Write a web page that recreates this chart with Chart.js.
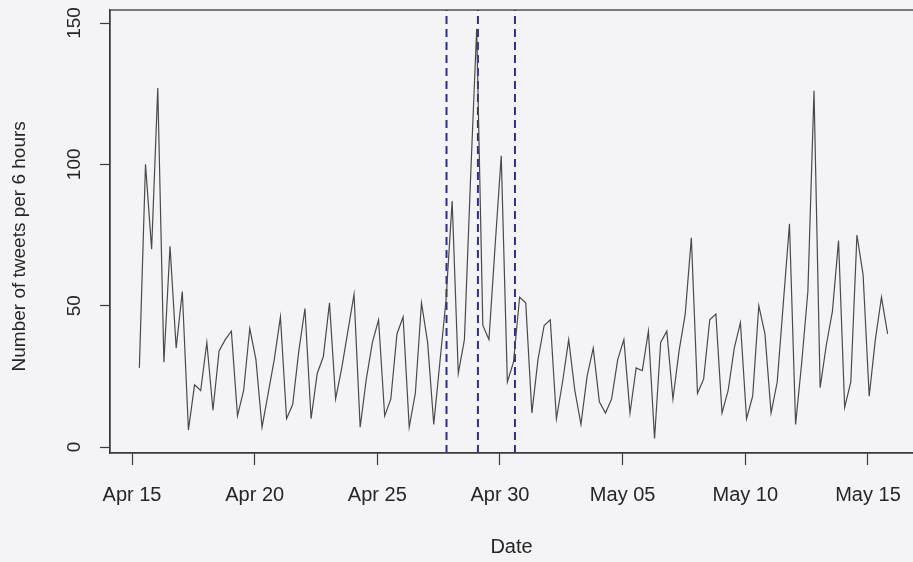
<!DOCTYPE html>
<html>
<head>
<meta charset="utf-8">
<title>Number of tweets per 6 hours</title>
<script src="https://cdn.jsdelivr.net/npm/chart.js@4.4.1/dist/chart.umd.min.js"></script>
<style>
  html, body { margin: 0; padding: 0; background: #f4f4f6; }
  canvas { display: block; }
</style>
</head>
<body>
<canvas id="tweetChart" width="913" height="562"></canvas>
<script>
// days counted from Apr 15 00:00, one point every 6 hours
const firstPointDay = 0.3;
const stepDays = 0.25;

const tweets = [
  28, 100, 70, 127, 30, 71, 35, 55, 6, 22,
  20, 37, 13, 34, 38, 41, 11, 20, 42, 31,
  7, 19, 31, 46, 10, 15, 34, 49, 10, 26,
  32, 51, 17, 28, 41, 54, 7, 24, 37, 45,
  11, 17, 40, 46, 7, 19, 51, 37, 8, 30,
  52, 87, 26, 38, 95, 148, 43, 38, 71, 103,
  23, 30, 53, 51, 12, 31, 43, 45, 10, 23,
  38, 20, 8, 25, 35, 16, 12, 17, 31, 38,
  12, 28, 27, 41, 3, 37, 41, 17, 34, 47,
  74, 19, 24, 45, 47, 12, 20, 35, 44, 10,
  18, 50, 40, 12, 23, 51, 79, 8, 30, 55,
  126, 21, 36, 48, 73, 14, 23, 75, 61, 18,
  38, 53, 40
];

// dashed event markers, days from Apr 15 00:00
const eventDays = [12.82, 14.1, 15.61];

const tickDays = [0, 5, 10, 15, 20, 25, 30];
const tickLabels = ['Apr 15', 'Apr 20', 'Apr 25', 'Apr 30', 'May 05', 'May 10', 'May 15'];
const yTicks = [0, 50, 100, 150];
const yTitle = 'Number of tweets per 6 hours';

const xMin = -0.897, xMax = 31.835;
const yMin = -2.12, yMax = 154.6;

const FONT = "'Liberation Sans', Arial, sans-serif";
const INK = '#262626';

const series = tweets.map((v, i) => ({ x: firstPointDay + i * stepDays, y: v }));

const eventSets = eventDays.map(d => ({
  data: [{ x: d, y: yMin }, { x: d, y: yMax }],
  borderColor: '#2e2e8c',
  borderWidth: 2,
  borderDash: [8, 5],
  pointRadius: 0,
  fill: false
}));

const bgPlugin = {
  id: 'bg',
  beforeDraw(chart) {
    const c = chart.ctx;
    c.save();
    c.fillStyle = '#f4f4f6';
    c.fillRect(0, 0, chart.width, chart.height);
    c.restore();
  }
};

const framePlugin = {
  id: 'frame',
  afterDatasetsDraw(chart) {
    const a = chart.chartArea;
    const c = chart.ctx;
    c.save();
    c.strokeStyle = '#3a3a3a';
    c.lineWidth = 1.3;
    c.strokeRect(a.left, a.top, a.right - a.left + 2, a.bottom - a.top);
    c.restore();
  }
};

// R-style rotated y tick labels and y title
const yLabelPlugin = {
  id: 'yLabels',
  afterDraw(chart) {
    const s = chart.scales.y;
    const c = chart.ctx;
    c.save();
    c.fillStyle = INK;
    c.font = '19px ' + FONT;
    c.textAlign = 'center';
    c.textBaseline = 'middle';
    yTicks.forEach(v => {
      c.save();
      c.translate(75, s.getPixelForValue(v));
      c.rotate(-Math.PI / 2);
      c.fillText(String(v), 0, 0);
      c.restore();
    });
    c.translate(20, s.getPixelForValue(71));
    c.rotate(-Math.PI / 2);
    c.fillText(yTitle, 0, 0);
    c.restore();
  }
};

new Chart(document.getElementById('tweetChart'), {
  type: 'line',
  data: {
    datasets: [{
      data: series,
      borderColor: '#4a4a4a',
      borderWidth: 1.2,
      pointRadius: 0,
      tension: 0,
      fill: false
    }].concat(eventSets)
  },
  plugins: [bgPlugin, framePlugin, yLabelPlugin],
  options: {
    responsive: false,
    animation: false,
    events: [],
    layout: { padding: { top: 10, right: 0, bottom: 0, left: 0 } },
    plugins: { legend: { display: false }, tooltip: { enabled: false } },
    scales: {
      x: {
        type: 'linear',
        min: xMin,
        max: xMax,
        afterBuildTicks: s => { s.ticks = tickDays.map(v => ({ value: v })); },
        afterFit: s => { s.height = 109; s.paddingLeft = 0; s.paddingRight = 0; },
        grid: { drawOnChartArea: false, drawTicks: true, tickLength: 12, tickColor: '#3a3a3a', tickWidth: 1.2 },
        border: { display: true, color: '#3a3a3a', width: 1.3 },
        ticks: {
          padding: 18,
          maxRotation: 0,
          color: INK,
          font: { family: FONT, size: 20 },
          callback: v => tickLabels[tickDays.indexOf(v)]
        },
        title: {
          display: true,
          text: 'Date',
          color: INK,
          font: { family: FONT, size: 20 },
          padding: { top: 0, bottom: 3 }
        }
      },
      y: {
        min: yMin,
        max: yMax,
        afterBuildTicks: s => { s.ticks = yTicks.map(v => ({ value: v })); },
        afterFit: s => { s.width = 110; s.paddingTop = 0; s.paddingBottom = 0; },
        grid: { drawOnChartArea: false, drawTicks: true, tickLength: 10, tickColor: '#3a3a3a', tickWidth: 1.2 },
        border: { display: true, color: '#3a3a3a', width: 1.3 },
        ticks: { display: false },
        title: { display: false }
      }
    }
  }
});
</script>
</body>
</html>
